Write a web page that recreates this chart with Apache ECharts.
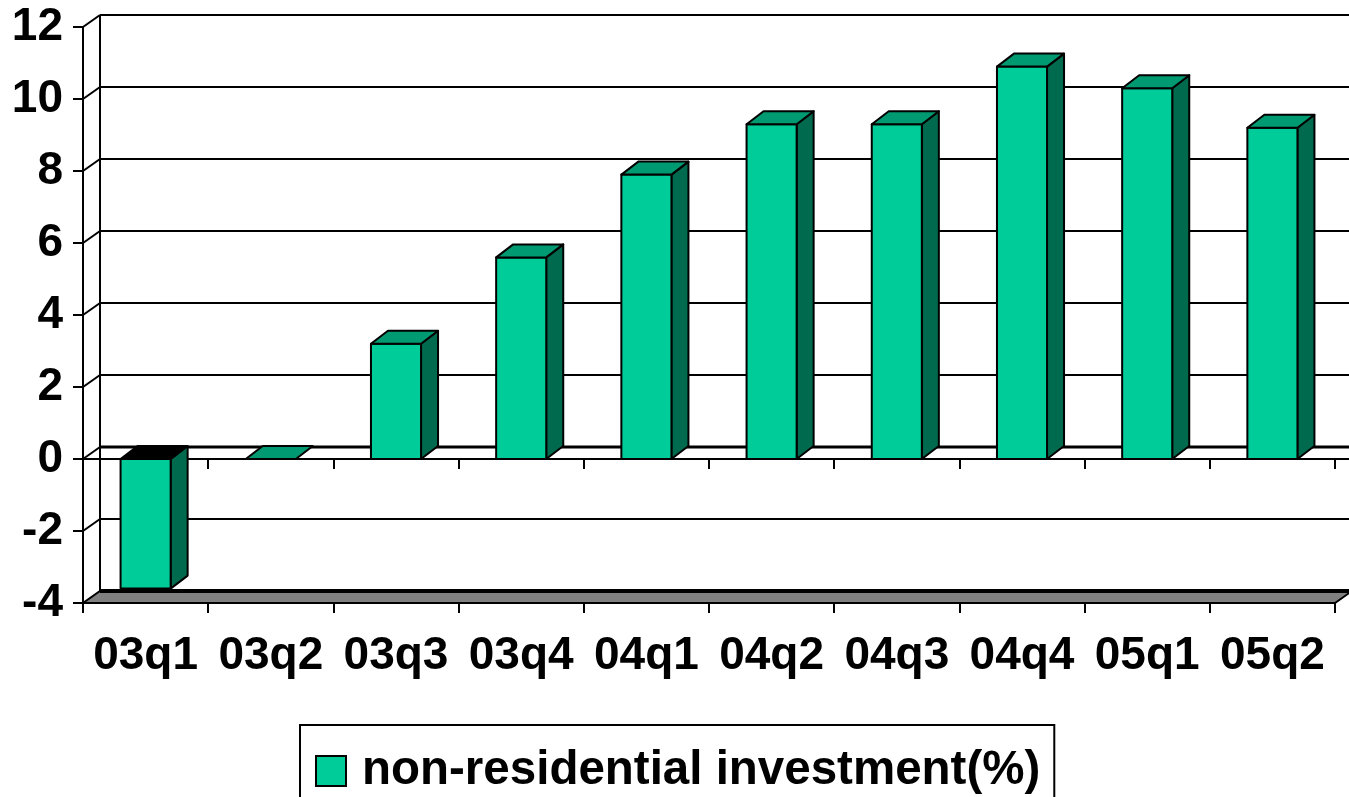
<!DOCTYPE html>
<html><head><meta charset="utf-8">
<script src="https://cdn.jsdelivr.net/npm/echarts@6/dist/echarts.min.js"></script>
<style>html,body{margin:0;padding:0;background:#fff}#c{width:1349px;height:797px}</style>
</head><body><div id="c"></div>
<script>
const categories = ['03q1','03q2','03q3','03q4','04q1','04q2','04q3','04q4','05q1','05q2'];
const values = [-3.6, 0, 3.2, 5.6, 7.9, 9.3, 9.3, 10.9, 10.3, 9.2];
const yTicks = [-4, -2, 0, 2, 4, 6, 8, 10, 12];
const seriesName = 'non-residential investment(%)';

const WALL_DX = 17, WALL_DY = -12;
const BAR_DX = 17, BAR_DY = -13;
const FRONT = '#00CC99', TOP = '#009A72', SIDE = '#006A4E';
const FONT = '"Liberation Sans", Arial, sans-serif';

function wallRender(params, api) {
  const cs = params.coordSys;
  const gx = cs.x, gw = cs.width;
  const v = api.value(1);
  const y = api.coord([0, v])[1];
  const yFloor = api.coord([0, yTicks[0]])[1];
  const ch = [];
  if (v === yTicks[0]) {
    ch.push({type:'polygon', shape:{points:[[gx,y],[gx+gw,y],[gx+gw+WALL_DX,y+WALL_DY],[gx+WALL_DX,y+WALL_DY]]},
      style:{fill:'#808080', stroke:'#000', lineWidth:2}});
    ch.push({type:'line', shape:{x1:gx+WALL_DX, y1:y+WALL_DY, x2:gx+gw+WALL_DX+20, y2:y+WALL_DY},
      style:{stroke:'#000', lineWidth:4}});
  } else {
    const isZero = v === 0;
    ch.push({type:'line', shape:{x1:gx, y1:y, x2:gx+WALL_DX, y2:y+WALL_DY}, style:{stroke:'#000', lineWidth:2}});
    ch.push({type:'line', shape:{x1:gx+WALL_DX, y1:y+WALL_DY, x2:gx+gw+WALL_DX+20, y2:y+WALL_DY},
      style:{stroke:'#000', lineWidth: isZero ? 3 : 2}});
    if (isZero) {
      ch.push({type:'line', shape:{x1:gx+gw, y1:y, x2:gx+gw+WALL_DX+20, y2:y}, style:{stroke:'#000', lineWidth:2}});
    }
    if (v === yTicks[yTicks.length - 1]) {
      ch.push({type:'line', shape:{x1:gx+WALL_DX, y1:y+WALL_DY, x2:gx+WALL_DX, y2:yFloor+WALL_DY}, style:{stroke:'#000', lineWidth:2}});
    }
  }
  return {type:'group', children: ch};
}

function barRender(params, api) {
  const i = api.value(0), v = api.value(1);
  const p0 = api.coord([i, 0]), p1 = api.coord([i, v]);
  const w = api.size([1, 0])[0] * 0.4;
  const xl = p0[0] - w / 2, xr = p0[0] + w / 2;
  const yTop = Math.min(p0[1], p1[1]), yBot = Math.max(p0[1], p1[1]);
  const st = {stroke:'#000', lineWidth:2, lineJoin:'round'};
  const ch = [];
  if (yBot - yTop > 0.5) {
    ch.push({type:'polygon', shape:{points:[[xr,yTop],[xr+BAR_DX,yTop+BAR_DY],[xr+BAR_DX,yBot+BAR_DY],[xr,yBot]]},
      style:Object.assign({}, st, {fill:SIDE})});
    ch.push({type:'rect', shape:{x:xl, y:yTop, width:w, height:yBot-yTop},
      style:Object.assign({}, st, {fill:FRONT})});
  }
  ch.push({type:'polygon', shape:{points:[[xl,yTop],[xr,yTop],[xr+BAR_DX,yTop+BAR_DY],[xl+BAR_DX,yTop+BAR_DY]]},
    style:Object.assign({}, st, {fill: v < 0 ? '#000' : TOP})});
  return {type:'group', children: ch};
}

const chart = echarts.init(document.getElementById('c'), null, {renderer:'canvas'});
chart.setOption({
  animation: false,
  backgroundColor: '#fff',
  grid: {left: 83, right: 14, top: 27, bottom: 194, containLabel: false},
  legend: {
    data: [{name: seriesName, icon: 'rect', itemStyle: {color: FRONT, borderColor: '#000', borderWidth: 2}}],
    left: 300, top: 725, itemWidth: 30, itemHeight: 30,
    padding: [22, 14, 40, 15],
    borderColor: '#000', borderWidth: 2,
    selectedMode: false,
    textStyle: {fontSize: 47.5, fontWeight: 'bold', fontFamily: FONT, color: '#000', lineHeight: 30, padding: [0, 0, 0, 11]}
  },
  xAxis: [{
    type: 'category', data: categories, position: 'bottom',
    axisLine: {onZero: false, lineStyle: {color: '#000', width: 2}},
    axisTick: {show: true, length: 10, alignWithLabel: false, lineStyle: {color: '#000', width: 2}},
    axisLabel: {interval: 0, hideOverlap: false, fontSize: 46, fontWeight: 'bold', fontFamily: FONT, color: '#000', margin: 30, lineHeight: 46},
    splitLine: {show: false}
  }, {
    type: 'category', data: categories, position: 'bottom',
    axisLine: {onZero: true, lineStyle: {color: '#000', width: 2}},
    axisTick: {show: true, length: 10, lineStyle: {color: '#000', width: 2}},
    axisLabel: {show: false},
    splitLine: {show: false}
  }],
  yAxis: {
    type: 'value', min: -4, max: 12, interval: 2,
    axisLine: {show: true, lineStyle: {color: '#000', width: 2}},
    axisTick: {show: true, length: 10, lineStyle: {color: '#000', width: 2}},
    axisLabel: {fontSize: 46, fontWeight: 'bold', fontFamily: FONT, color: '#000', margin: 20},
    splitLine: {show: false}
  },
  series: [{
    type: 'custom', name: 'wall', z: 1, clip: false,
    renderItem: wallRender,
    data: yTicks.map(v => [0, v]),
    silent: true
  }, {
    type: 'custom', name: seriesName, z: 5, clip: false,
    itemStyle: {color: FRONT},
    renderItem: barRender,
    data: values.map((v, i) => [i, v])
  }]
});
</script>
</body></html>
